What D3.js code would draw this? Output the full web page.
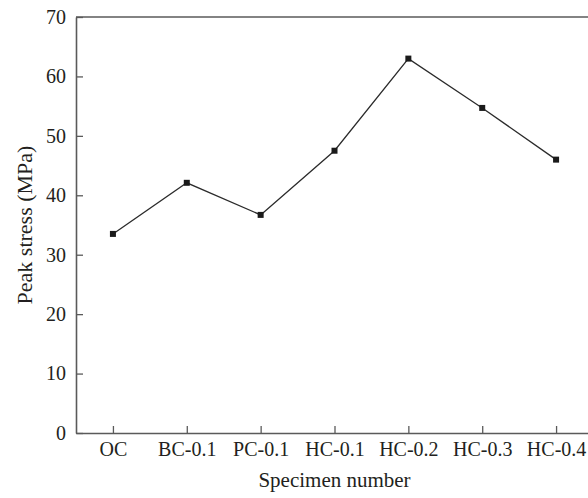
<!DOCTYPE html>
<html>
<head>
<meta charset="utf-8">
<script src="https://cdn.jsdelivr.net/npm/d3@7"></script>
<style>
  body { margin: 0; background: #fff; }
  svg { display: block; }
  text { font-family: "Liberation Serif", "DejaVu Serif", serif; fill: #231f20; }
</style>
</head>
<body>
<div id="chart"></div>
<script>
// specimens and their peak stress (MPa)
var specimens = ["OC", "BC-0.1", "PC-0.1", "HC-0.1", "HC-0.2", "HC-0.3", "HC-0.4"];
var peakStress = [33.5, 42.1, 36.7, 47.5, 63.0, 54.7, 46.0];
var yTicks = [0, 10, 20, 30, 40, 50, 60, 70];

var width = 588, height = 498;
var margin = {top: 17, right: -5, bottom: 65, left: 76};
var w = width - margin.left - margin.right,
    h = height - margin.top - margin.bottom;

var svg = d3.select("#chart").append("svg")
    .attr("width", width)
    .attr("height", height);

var g = svg.append("g")
    .attr("transform", "translate(" + margin.left + "," + margin.top + ")");

var x = d3.scalePoint()
    .domain(specimens)
    .range([0, w])
    .padding(0.5);

var y = d3.scaleLinear()
    .domain([0, 70])
    .range([h, 0]);

// top frame line
g.append("line")
    .attr("x1", 0).attr("x2", w)
    .attr("y1", 0).attr("y2", 0)
    .attr("stroke", "#5a5a5a")
    .attr("stroke-width", 1.6);

var xAxis = g.append("g")
    .attr("transform", "translate(0," + h + ")")
    .call(d3.axisBottom(x).tickSizeInner(-7).tickSizeOuter(0).tickPadding(9));

var yAxis = g.append("g")
    .call(d3.axisLeft(y).tickValues(yTicks).tickSizeInner(-7).tickSizeOuter(0).tickPadding(10));

[xAxis, yAxis].forEach(function(ax){
    ax.select(".domain").attr("stroke", "#5a5a5a").attr("stroke-width", 1.6);
    ax.selectAll(".tick line").attr("stroke", "#5a5a5a").attr("stroke-width", 1.3);
    ax.selectAll(".tick text")
        .style("font-family", "Liberation Serif, serif")
        .style("font-size", "20px")
        .attr("fill", "#231f20");
});

var line = d3.line()
    .x(function(d, i){ return x(specimens[i]); })
    .y(function(d){ return y(d); });

g.append("path")
    .datum(peakStress)
    .attr("d", line)
    .attr("fill", "none")
    .attr("stroke", "#2b2b2b")
    .attr("stroke-width", 1.3);

g.selectAll("rect.pt")
    .data(peakStress)
    .enter().append("rect")
    .attr("class", "pt")
    .attr("x", function(d, i){ return x(specimens[i]) - 3; })
    .attr("y", function(d){ return y(d) - 3; })
    .attr("width", 6)
    .attr("height", 6)
    .attr("fill", "#1a1a1a");

// axis titles
svg.append("text")
    .attr("x", margin.left + x("HC-0.1"))
    .attr("y", 487)
    .attr("text-anchor", "middle")
    .style("font-size", "21px")
    .text("Specimen number");

svg.append("text")
    .attr("transform", "translate(32," + (margin.top + h / 2) + ") rotate(-90)")
    .attr("text-anchor", "middle")
    .style("font-size", "22px")
    .text("Peak stress (MPa)");
</script>
</body>
</html>
